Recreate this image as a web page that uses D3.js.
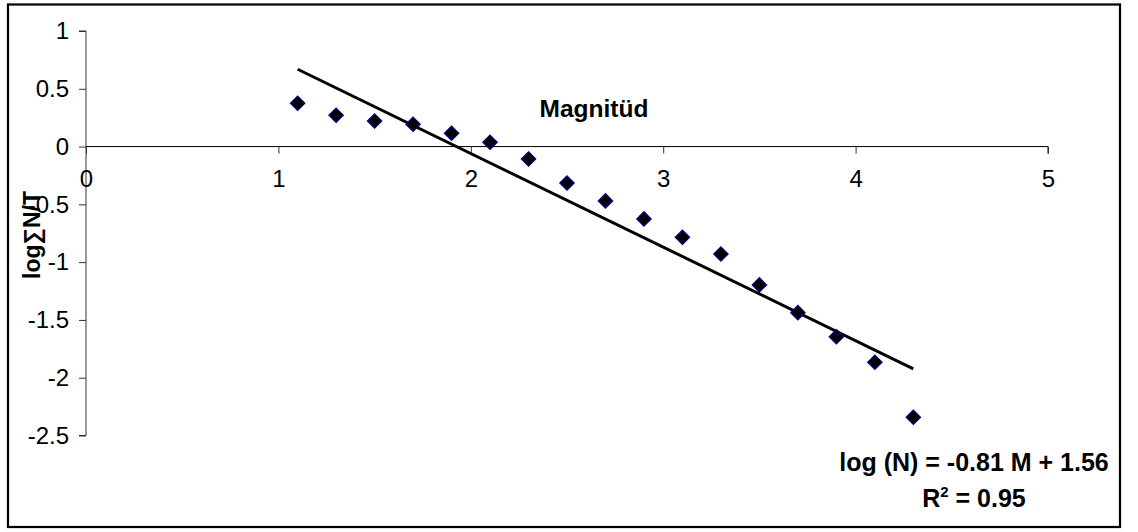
<!DOCTYPE html>
<html>
<head>
<meta charset="utf-8">
<script src="https://cdn.jsdelivr.net/npm/d3@7"></script>
<style>
  html, body { margin: 0; padding: 0; background: #fff; }
  svg { display: block; font-family: "Liberation Sans", Arial, sans-serif; }
</style>
</head>
<body>
<svg id="chart" width="1138" height="532"></svg>
<script>
// Magnitude bins and cumulative annual rate (log10)
const magnitudes = [1.1, 1.3, 1.5, 1.7, 1.9, 2.1, 2.3, 2.5, 2.7, 2.9, 3.1, 3.3, 3.5, 3.7, 3.9, 4.1, 4.3];
const logRate = [0.375, 0.271, 0.221, 0.193, 0.115, 0.037, -0.107, -0.315, -0.47, -0.626, -0.785, -0.93, -1.197, -1.437, -1.645, -1.866, -2.342];

// Gutenberg–Richter fit: log(N) = a + b*M
const slope = -0.81;
const intercept = 1.56;
const rSquared = 0.95;

const xTicks = [0, 1, 2, 3, 4, 5];
const yTicks = [1, 0.5, 0, -0.5, -1, -1.5, -2, -2.5];

const svg = d3.select("#chart");

// outer chart frame
svg.append("rect")
  .attr("x", 8).attr("y", 4.5)
  .attr("width", 1112).attr("height", 522.5)
  .attr("fill", "#fff").attr("stroke", "#000").attr("stroke-width", 2.2);

const x = d3.scaleLinear().domain([0, 5]).range([86, 1048]);
const y = d3.scaleLinear().domain([-2.5, 1]).range([435.5, 31]);

// y axis (vertical line at x = 0)
const yAxis = d3.axisLeft(y).tickValues(yTicks).tickSize(7).tickPadding(10)
  .tickFormat(d => String(d));
const gy = svg.append("g").attr("transform", `translate(${x(0)},0)`).call(yAxis);
gy.select(".domain").attr("stroke", "#333").attr("d", `M-7,${y(1)}H0V${y(-2.5)}H-7`);
gy.selectAll(".tick line").attr("stroke", "#333");
gy.selectAll(".tick text").attr("font-size", 24).attr("fill", "#000")
  .attr("font-family", "Liberation Sans, Arial, sans-serif");

// x axis crossing at y = 0
const xAxis = d3.axisBottom(x).tickValues(xTicks).tickSize(7).tickPadding(16)
  .tickFormat(d => String(d));
const gx = svg.append("g").attr("transform", `translate(0,${y(0)})`).call(xAxis);
gx.select(".domain").attr("stroke", "#000").attr("d", `M${x(0)},0H${x(5)}V7`);
gx.selectAll(".tick line").attr("stroke", "#333");
gx.selectAll(".tick text").attr("font-size", 24).attr("fill", "#000")
  .attr("font-family", "Liberation Sans, Arial, sans-serif");

// axis titles
svg.append("text")
  .attr("x", 594).attr("y", 117)
  .attr("text-anchor", "middle")
  .attr("font-size", 24.5).attr("font-weight", "bold")
  .text("Magnitüd");

svg.append("text")
  .attr("transform", `translate(40,${235}) rotate(-90)`)
  .attr("text-anchor", "middle")
  .attr("font-size", 23).attr("font-weight", "bold")
  .text("log∑N/T");

// linear trend line across the data range
const mMin = d3.min(magnitudes), mMax = d3.max(magnitudes);
svg.append("line")
  .attr("x1", x(mMin)).attr("y1", y(intercept + slope * mMin))
  .attr("x2", x(mMax)).attr("y2", y(intercept + slope * mMax))
  .attr("stroke", "#000").attr("stroke-width", 3);

// data markers (diamonds)
const diamond = d3.symbol().type(d3.symbolDiamond2).size(130);
svg.append("g").selectAll("path")
  .data(magnitudes.map((m, i) => ({ m, v: logRate[i] })))
  .join("path")
  .attr("d", diamond)
  .attr("transform", d => `translate(${x(d.m)},${y(d.v)})`)
  .attr("fill", "#000")
  .attr("stroke", "#000080")
  .attr("stroke-width", 1.3);

// fit equation and coefficient of determination
svg.append("text")
  .attr("x", 974).attr("y", 471)
  .attr("text-anchor", "middle")
  .attr("font-size", 25).attr("font-weight", "bold")
  .text(`log (N) = ${slope} M + ${intercept}`);

const r2 = svg.append("text")
  .attr("x", 974).attr("y", 507)
  .attr("text-anchor", "middle")
  .attr("font-size", 25).attr("font-weight", "bold");
r2.append("tspan").text("R");
r2.append("tspan").attr("dy", -10).attr("font-size", 15).text("2");
r2.append("tspan").attr("dy", 10).text(` = ${rSquared}`);
</script>
</body>
</html>
